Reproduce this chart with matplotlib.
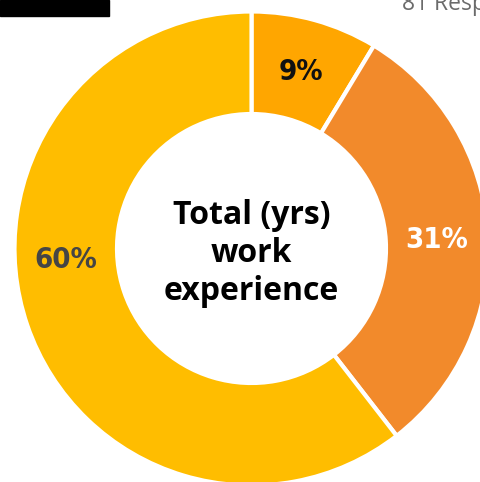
import numpy as np
import matplotlib
matplotlib.use('Agg')
from matplotlib import pyplot as plt
from matplotlib.patches import Rectangle

# Responses per experience bracket (81 in total)
counts = [7, 25, 49]
colors = ['#FFA600', '#F28A2B', '#FFBD00']
label_colors = ['#111111', '#FFFFFF', '#454545']
center_title = 'Total (yrs)\nwork\nexperience'
responses_text = '81 Responses'

W, H = 480, 482
fig = plt.figure(figsize=(W / 100, H / 100), dpi=100)
ax = fig.add_axes([0, 0, 1, 1])

cx, cy = 251.5, H - 248.5
r_out, r_in = 237, 134.5

wedges, _ = ax.pie(counts, colors=colors, center=(cx, cy), radius=r_out,
                   startangle=90, counterclock=False,
                   wedgeprops=dict(width=r_out - r_in, edgecolor='white', linewidth=3))
ax.set_xlim(0, W)
ax.set_ylim(0, H)
ax.set_aspect('auto')
ax.axis('off')

total = sum(counts)
pcts = [round(100 * c / total) for c in counts]
# the big slice gets its label pulled up toward the left edge
angle_shift = [0, 0, -16]
r_lab = (r_out + r_in) / 2
for w, p, col, da in zip(wedges, pcts, label_colors, angle_shift):
    ang = np.deg2rad((w.theta1 + w.theta2) / 2 + da)
    ax.text(cx + r_lab * np.cos(ang), cy + r_lab * np.sin(ang) - 2, f'{p}%',
            ha='center', va='center', color=col, fontsize=21, fontweight='bold',
            fontstretch='condensed', family=['DejaVu Sans'])

ax.text(cx, cy - 5, center_title, ha='center', va='center', fontsize=23,
        fontweight='bold', family=['Open Sans', 'DejaVu Sans'],
        linespacing=1.2, color='#000000')

# header bits at the top edge
fig.text(402 / W, 1 - 10.5 / H, responses_text, ha='left', va='baseline',
         fontsize=16.5, color='#6B6B6B', family=['Open Sans', 'DejaVu Sans'])
fig.patches.append(Rectangle((0, 1 - 16 / H), 109 / W, 16 / H,
                             transform=fig.transFigure, color='black'))

fig.savefig('out.png', dpi=100)
